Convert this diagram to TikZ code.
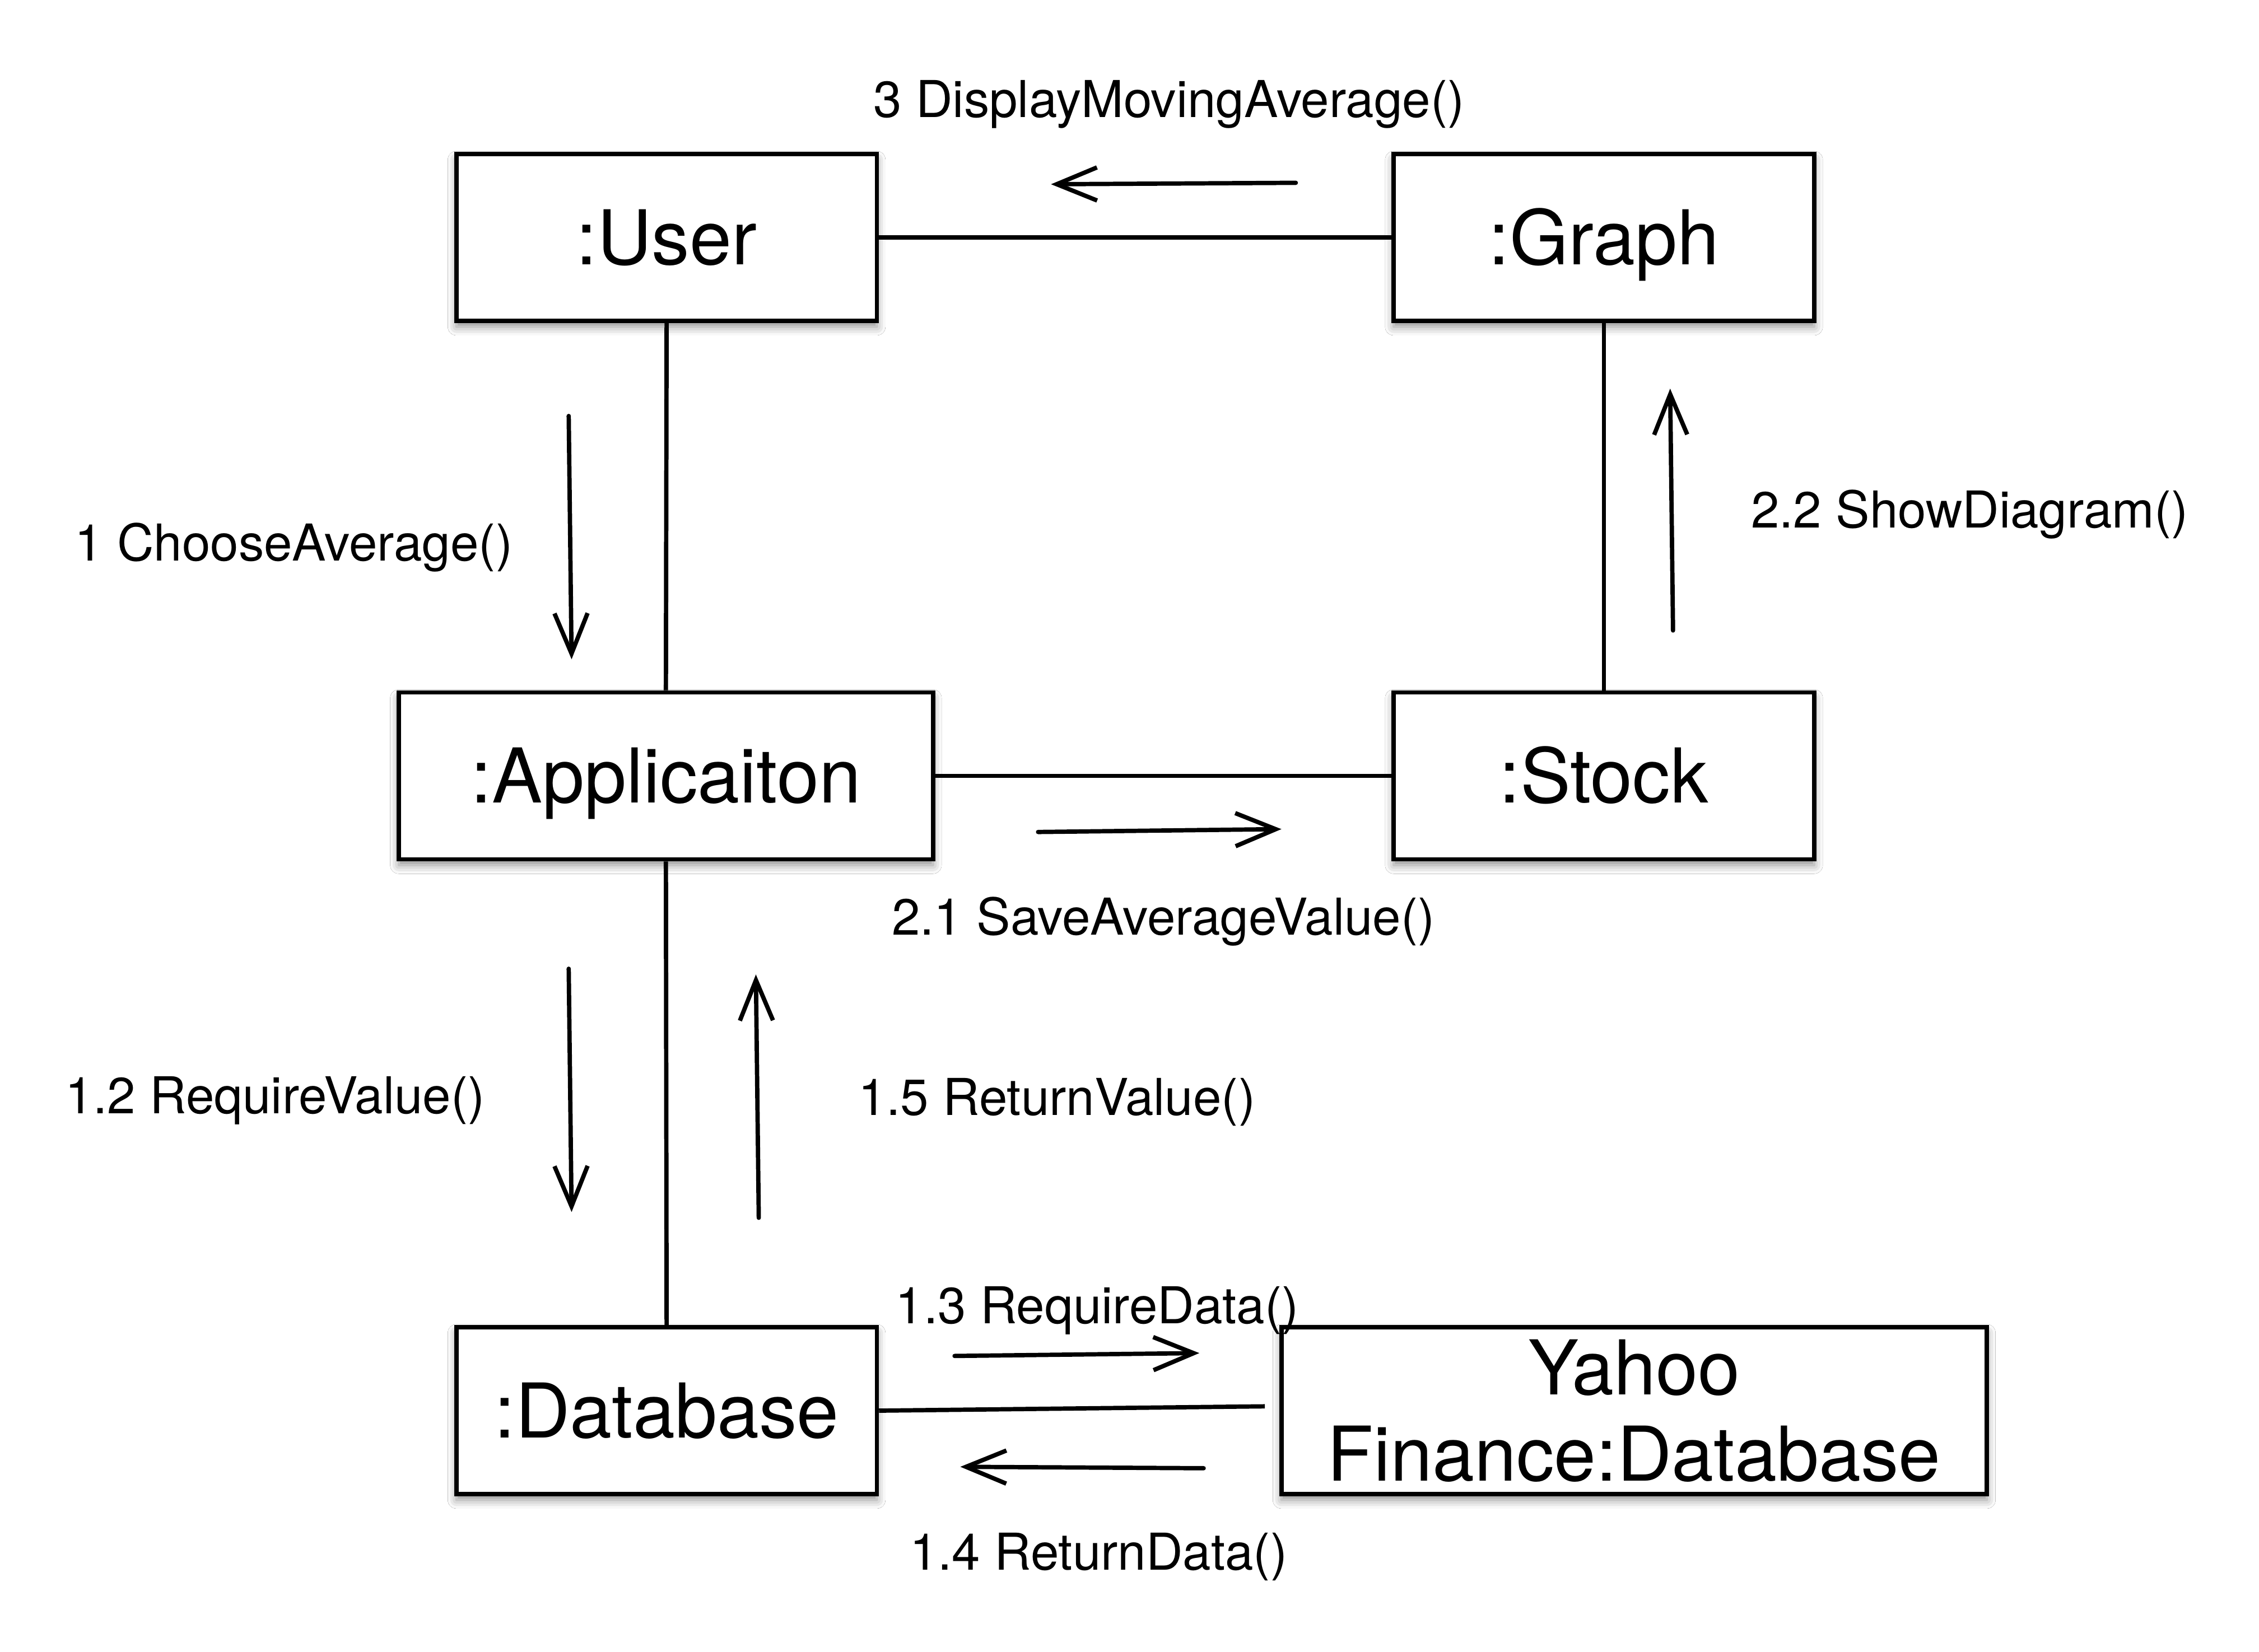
\documentclass[tikz,border=0pt]{standalone}
\usepackage{fontspec}
\setmainfont{TeX Gyre Heros}
\usetikzlibrary{arrows.meta,shadows.blur,calc}
\begin{document}
\begin{tikzpicture}[x=1pt,y=-1pt,
  objbox/.style={draw=black,line width=3pt,fill=white,rectangle,inner sep=0pt,
    minimum height=116pt,font=\fontsize{52.5}{60}\selectfont,
    blur shadow={shadow xshift=0pt,shadow yshift=-4pt,shadow blur radius=6pt,shadow opacity=45}},
  oneline/.style={text height=37.7pt,text depth=0pt},
  msglabel/.style={inner sep=0pt,font=\fontsize{35.3}{40}\selectfont,text height=25.3pt,text depth=0pt},
  link/.style={line width=3pt},
  msg/.style={line width=3pt,line cap=round,-{Straight Barb[length=28pt,width=23pt,sharp]}}
]
\useasboundingbox[fill=white] (0,0) rectangle (1569,1147.3);

% objects
\node[objbox,oneline,minimum width=292pt] (user) at (463,165) {:User};
\node[objbox,oneline,minimum width=292pt] (graph) at (1114,165) {:Graph};
\node[objbox,oneline,minimum width=371pt] (app) at (462.5,539) {:Applicaiton};
\node[objbox,oneline,minimum width=292pt] (stock) at (1114,539) {:Stock};
\node[objbox,oneline,minimum width=292pt] (db) at (463,980) {:Database};
\node[objbox,minimum width=490pt,align=center] (yahoo) at (1135,980) {Yahoo\\Finance:Database};

% links
\draw[link] (user.east) -- (graph.west);
\draw[link] (user.south) -- (app.north);
\draw[link] (graph.south) -- (stock.north);
\draw[link] (app.east) -- (stock.west);
\draw[link] (app.south) -- (db.north);
\coordinate (yend) at ($(yahoo.west)+(-10,-3)$);
\draw[link] (db.east) -- (yend);

% message arrows
\coordinate (m3a) at (900,127);  \coordinate (m3b) at (730,128);
\coordinate (m1a) at (395,289);  \coordinate (m1b) at (397,458);
\coordinate (m22a) at (1162,438); \coordinate (m22b) at (1160,270);
\coordinate (m21a) at (721,578); \coordinate (m21b) at (890,576);
\coordinate (m12a) at (395,673); \coordinate (m12b) at (397,842);
\coordinate (m15a) at (527,846); \coordinate (m15b) at (525,677);
\coordinate (m13a) at (663,942); \coordinate (m13b) at (833,940);
\coordinate (m14a) at (836,1020); \coordinate (m14b) at (667,1019);
\draw[msg] (m3a) -- (m3b);
\draw[msg] (m1a) -- (m1b);
\draw[msg] (m22a) -- (m22b);
\draw[msg] (m21a) -- (m21b);
\draw[msg] (m12a) -- (m12b);
\draw[msg] (m15a) -- (m15b);
\draw[msg] (m13a) -- (m13b);
\draw[msg] (m14a) -- (m14b);

% labels
\node[msglabel] (l3) at (812,69) {3 DisplayMovingAverage()};
\node[msglabel] (l1) at (204,377) {1 ChooseAverage()};
\node[msglabel] (l22) at (1368,354) {2.2 ShowDiagram()};
\node[msglabel] (l21) at (808,637) {2.1 SaveAverageValue()};
\node[msglabel] (l12) at (191,761) {1.2 RequireValue()};
\node[msglabel] (l15) at (734,762) {1.5 ReturnValue()};
\node[msglabel] (l13) at (762,907) {1.3 RequireData()};
\node[msglabel] (l14) at (763,1078) {1.4 ReturnData()};
\end{tikzpicture}
\end{document}
